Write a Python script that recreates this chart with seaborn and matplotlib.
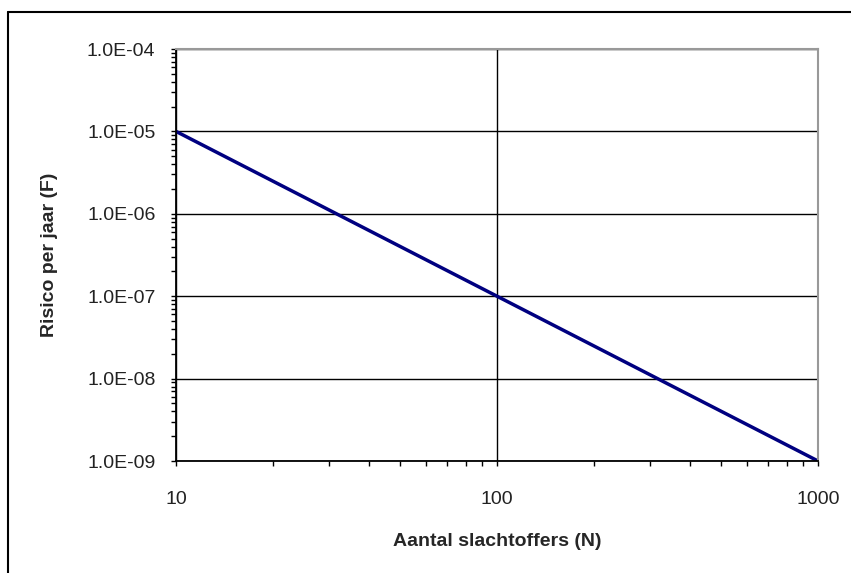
import matplotlib
matplotlib.use("Agg")
import matplotlib.pyplot as plt
import matplotlib.ticker as mticker
from matplotlib.lines import Line2D
import seaborn as sns
import pandas as pd

# FN-curve data (N slachtoffers, F risico per jaar)
n_values = [10, 100, 1000]
f_values = [1e-5, 1e-7, 1e-9]
y_ticks = [1e-9, 1e-8, 1e-7, 1e-6, 1e-5, 1e-4]
x_ticks = [10, 100, 1000]

df = pd.DataFrame({"N": n_values, "F": f_values})

sns.set_style("white")
plt.rcParams["font.family"] = ["Liberation Sans", "DejaVu Sans"]

fig = plt.figure(figsize=(8.51, 5.73), dpi=100)
ax = fig.add_axes([176 / 851, 1 - 461 / 573, (818 - 176) / 851, (461 - 49) / 573])

sns.lineplot(data=df, x="N", y="F", ax=ax, color="#000080", linewidth=2.5)

ax.set_xscale("log")
ax.set_yscale("log")
ax.set_xlim(10, 1000)
ax.set_ylim(1e-9, 1e-4)

ax.set_xticks(x_ticks)
ax.xaxis.set_major_formatter(mticker.FuncFormatter(lambda v, p: f"{v:.0f}"))
ax.set_yticks(y_ticks)
ax.yaxis.set_major_formatter(mticker.FuncFormatter(lambda v, p: f"{v:.1E}"))
ax.xaxis.set_minor_locator(mticker.LogLocator(base=10, subs=range(2, 10)))
ax.yaxis.set_minor_locator(mticker.LogLocator(base=10, subs=range(2, 10)))
ax.xaxis.set_minor_formatter(mticker.NullFormatter())
ax.yaxis.set_minor_formatter(mticker.NullFormatter())

ax.tick_params(axis="both", which="both", direction="out", length=3.8, width=1,
               color="black", bottom=True, left=True, top=False, right=False)
ax.tick_params(axis="x", which="major", labelsize=14, pad=18, labelcolor="#222222")
ax.tick_params(axis="y", which="major", labelsize=14, pad=11, labelcolor="#222222")

ax.grid(True, which="major", color="black", linewidth=1)
ax.grid(False, which="minor")

for side in ["left", "bottom"]:
    ax.spines[side].set_color("black")
    ax.spines[side].set_linewidth(1.3)
for side in ["top", "right"]:
    ax.spines[side].set_color("#999999")
    ax.spines[side].set_linewidth(1.5)

ax.set_xlabel("Aantal slachtoffers (N)", fontsize=14, fontweight="bold", labelpad=18)
ax.set_ylabel("Risico per jaar (F)", fontsize=14, fontweight="bold", labelpad=21)

# outer frame (left and top edges visible)
fig.add_artist(Line2D([8 / 851, 8 / 851], [0, 1 - 12 / 573], transform=fig.transFigure, color="black", linewidth=1.5))
fig.add_artist(Line2D([8 / 851, 1], [1 - 12 / 573, 1 - 12 / 573], transform=fig.transFigure, color="black", linewidth=1.5))

fig.savefig("out.png", dpi=100)
